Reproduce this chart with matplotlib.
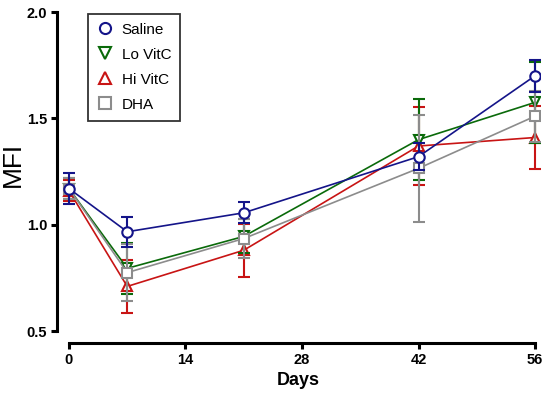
import matplotlib
matplotlib.use("Agg")
import matplotlib.pyplot as plt
from matplotlib.lines import Line2D

plt.rcParams['font.family'] = ['Liberation Sans', 'DejaVu Sans']

days = [0, 7, 21, 42, 56]
saline = [1.17, 0.967, 1.056, 1.32, 1.70]
saline_err = [0.072, 0.07, 0.05, 0.065, 0.075]
lo_vitc = [1.17, 0.795, 0.945, 1.40, 1.575]
lo_vitc_err = [0.05, 0.12, 0.08, 0.19, 0.19]
hi_vitc = [1.16, 0.71, 0.88, 1.37, 1.41]
hi_vitc_err = [0.05, 0.125, 0.125, 0.185, 0.15]
dha = [1.17, 0.775, 0.935, 1.265, 1.51]
dha_err = [0.05, 0.135, 0.09, 0.25, 0.12]

series = [
    ("Saline", saline, saline_err, "#141489", "o", 5),
    ("Lo VitC", lo_vitc, lo_vitc_err, "#0a6a0a", "v", 3),
    ("Hi VitC", hi_vitc, hi_vitc_err, "#c81414", "^", 2),
    ("DHA", dha, dha_err, "#8c8c8c", "s", 4),
]

fig = plt.figure(figsize=(5.5, 3.96), dpi=100)
ax = fig.add_axes([57 / 550, 1 - 343 / 396, 483 / 550, 331 / 396])

handles = []
for name, vals, errs, col, mk, z in series:
    ax.errorbar(days, vals, yerr=errs, color=col, marker=mk, markersize=7.5,
                markerfacecolor="white", markeredgecolor=col, markeredgewidth=1.5,
                linewidth=1.2, elinewidth=1.5, capsize=4, capthick=1.5,
                zorder=z)
    handles.append(Line2D([], [], linestyle="", marker=mk, markersize=8,
                          markerfacecolor="white", markeredgecolor=col,
                          markeredgewidth=1.5, label=name))

ax.set_xlim(-1.44, 56.6)
ax.set_ylim(0.444, 2.0)
ax.set_xticks([0, 14, 28, 42, 56])
ax.set_yticks([0.5, 1.0, 1.5, 2.0])
ax.set_yticklabels(["0.5", "1.0", "1.5", "2.0"])
ax.spines['top'].set_visible(False)
ax.spines['right'].set_visible(False)
ax.spines['left'].set_bounds(0.5, 2.0)
ax.spines['bottom'].set_bounds(0, 56)
for s in ['left', 'bottom']:
    ax.spines[s].set_linewidth(2.2)
ax.tick_params(width=2.2, length=4, labelsize=10.5, pad=3)
for lbl in ax.get_xticklabels() + ax.get_yticklabels():
    lbl.set_fontweight('bold')

ax.set_xlabel("Days", fontsize=13, fontweight='bold')
ax.xaxis.set_label_coords(0.5, -0.088)
ax.set_ylabel("MFI", fontsize=19)
ax.yaxis.set_label_coords(-0.066, 0.54)

leg = ax.legend(handles=handles, loc="upper left", bbox_to_anchor=(0.064, 0.995),
                frameon=True, fancybox=False, edgecolor="black", fontsize=11,
                handlelength=1.0, handletextpad=0.6, borderpad=0.6,
                labelspacing=0.72, borderaxespad=0.0)
leg.get_frame().set_linewidth(1.3)

fig.savefig("out.png", dpi=100)
